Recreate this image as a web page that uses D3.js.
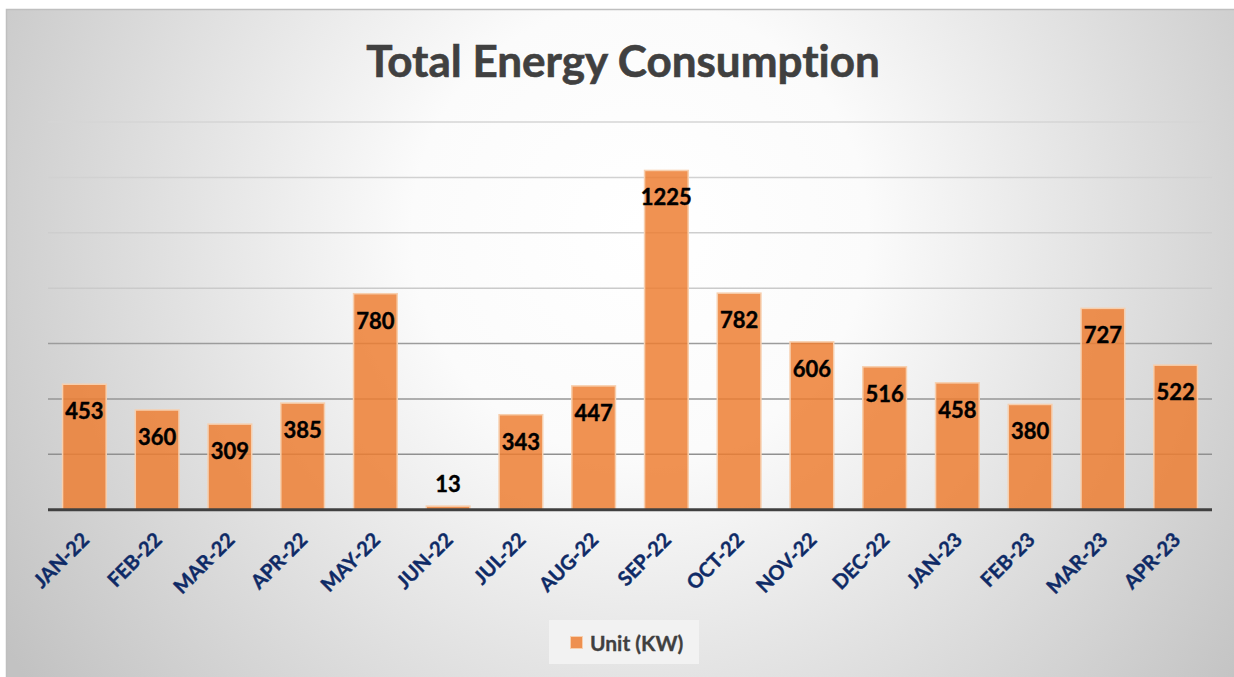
<!DOCTYPE html>
<html>
<head>
<meta charset="utf-8">
<script src="https://cdn.jsdelivr.net/npm/d3@7"></script>
<style>
  html, body { margin: 0; padding: 0; background: #fff; }
  svg { display: block; }
  text { font-family: Lato, "Open Sans", sans-serif; font-variant-ligatures: none; }
</style>
</head>
<body>
<svg id="chart"></svg>
<script>
// chart values
const months = ["JAN-22", "FEB-22", "MAR-22", "APR-22", "MAY-22", "JUN-22", "JUL-22", "AUG-22",
                "SEP-22", "OCT-22", "NOV-22", "DEC-22", "JAN-23", "FEB-23", "MAR-23", "APR-23"];
const units = [453, 360, 309, 385, 780, 13, 343, 447, 1225, 782, 606, 516, 458, 380, 727, 522];
const gridTicks = [200, 400, 600, 800, 1000, 1200, 1400];
const seriesName = "Unit (KW)";
const chartTitle = "Total Energy Consumption";

const width = 1234, height = 677;
const margin = {top: 122, right: 22, bottom: 167, left: 48};

const svg = d3.select("#chart")
    .attr("width", width)
    .attr("height", height);

const defs = svg.append("defs");

// radial background like the office style
const bg = defs.append("radialGradient")
    .attr("id", "bgGrad")
    .attr("gradientUnits", "userSpaceOnUse")
    .attr("cx", 640).attr("cy", 230).attr("r", 760);
bg.append("stop").attr("offset", "0").attr("stop-color", "#ffffff");
bg.append("stop").attr("offset", "0.3").attr("stop-color", "#fbfbfb");
bg.append("stop").attr("offset", "1").attr("stop-color", "#c2c2c2");

// grid lines get darker toward the bottom
const gg = defs.append("linearGradient")
    .attr("id", "gridGrad")
    .attr("gradientUnits", "userSpaceOnUse")
    .attr("x1", 0).attr("x2", 0).attr("y1", 110).attr("y2", 510);
gg.append("stop").attr("offset", "0").attr("stop-color", "#d6d6d6");
gg.append("stop").attr("offset", "0.45").attr("stop-color", "#cacaca");
gg.append("stop").attr("offset", "0.58").attr("stop-color", "#9c9c9c");
gg.append("stop").attr("offset", "1").attr("stop-color", "#8a8a8a");

svg.append("rect")
    .attr("x", 6.5).attr("y", 9.5)
    .attr("width", width).attr("height", height)
    .attr("fill", "url(#bgGrad)")
    .attr("stroke", "#bfbfbf")
    .attr("stroke-width", 1.5);

// title
svg.append("text")
    .attr("x", 623)
    .attr("y", 77)
    .attr("text-anchor", "middle")
    .attr("font-size", 44)
    .attr("font-weight", "bold")
    .attr("fill", "#404040")
    .attr("stroke", "#404040")
    .attr("stroke-width", 0.6)
    .text(chartTitle);

const x = d3.scaleBand()
    .domain(months)
    .range([margin.left, width - margin.right])
    .paddingInner(0.4)
    .paddingOuter(0.2);

const y = d3.scaleLinear()
    .domain([0, 1400])
    .range([height - margin.bottom - 0.3, margin.top]);

// gridlines
svg.append("g")
    .selectAll("line")
    .data(gridTicks)
    .join("line")
    .attr("x1", margin.left)
    .attr("x2", width - margin.right)
    .attr("y1", d => y(d))
    .attr("y2", d => y(d))
    .attr("stroke", "url(#gridGrad)")
    .attr("stroke-width", 1.5);

// bars
svg.append("g")
    .selectAll("rect")
    .data(units)
    .join("rect")
    .attr("x", (d, i) => x(months[i]))
    .attr("y", d => y(d))
    .attr("width", x.bandwidth())
    .attr("height", d => y(0) - y(d))
    .attr("fill", "#ed7d31")
    .attr("fill-opacity", 0.84)
    .attr("stroke", "#f7cfae")
    .attr("stroke-width", 1.5);

// data labels (inside end, or above if the bar is too short)
svg.append("g")
    .selectAll("text")
    .data(units)
    .join("text")
    .attr("x", (d, i) => x(months[i]) + x.bandwidth() / 2)
    .attr("y", d => (y(0) - y(d) > 40) ? y(d) + 35 : y(d) - 14)
    .attr("text-anchor", "middle")
    .attr("font-size", 22)
    .attr("font-weight", "bold")
    .attr("fill", "#000")
    .attr("stroke", "#000")
    .attr("stroke-width", 0.4)
    .text(d => d);

// baseline axis
svg.append("line")
    .attr("x1", margin.left)
    .attr("x2", width - margin.right)
    .attr("y1", y(0))
    .attr("y2", y(0))
    .attr("stroke", "#404040")
    .attr("stroke-width", 3);

// rotated category labels
svg.append("g")
    .selectAll("text")
    .data(months)
    .join("text")
    .attr("transform", d => `translate(${x(d) + x.bandwidth() / 2 + 6}, 541) rotate(-45)`)
    .attr("text-anchor", "end")
    .attr("font-size", 20)
    .attr("font-weight", "bold")
    .attr("fill", "#0e2a66")
    .attr("stroke", "#0e2a66")
    .attr("stroke-width", 0.4)
    .text(d => d);

// legend
const legend = svg.append("g");
legend.append("rect")
    .attr("x", 549).attr("y", 620)
    .attr("width", 150).attr("height", 44)
    .attr("fill", "#f2f2f2");
legend.append("rect")
    .attr("x", 570.5).attr("y", 636.5)
    .attr("width", 12).attr("height", 12)
    .attr("fill", "#ed7d31")
    .attr("fill-opacity", 0.84)
    .attr("stroke", "#f7cfae");
legend.append("text")
    .attr("x", 590)
    .attr("y", 651)
    .attr("font-size", 21)
    .attr("font-weight", "bold")
    .attr("fill", "#404040")
    .attr("stroke", "#404040")
    .attr("stroke-width", 0.3)
    .text(seriesName);
</script>
</body>
</html>
